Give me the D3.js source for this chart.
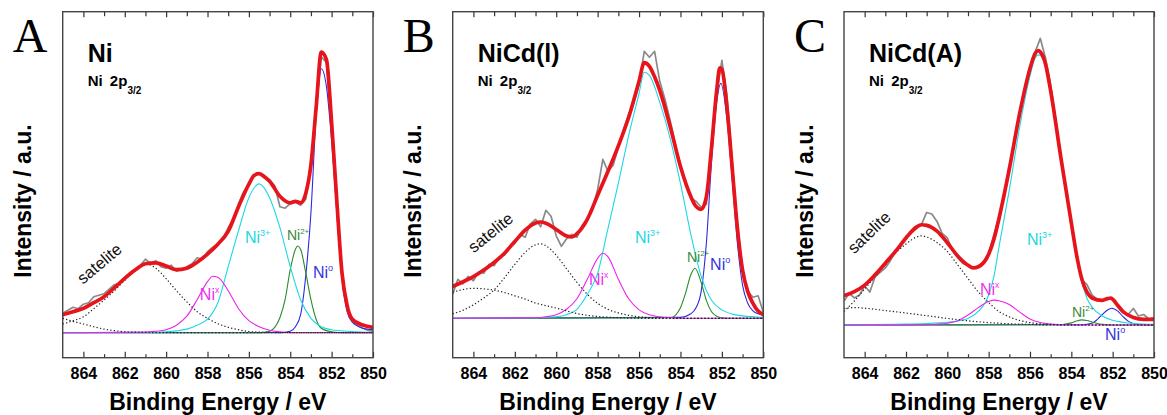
<!DOCTYPE html>
<html><head><meta charset="utf-8">
<script src="https://cdn.jsdelivr.net/npm/d3@7"></script>
<style>body{margin:0;background:#fff;} svg{display:block;}</style>
</head><body>
<svg id="chart" width="1167" height="415"></svg>
<script>
// ---------- tick labels ----------
const majorTicks = [864, 862, 860, 858, 856, 854, 852, 850];
const minorTicks = [863, 861, 859, 857, 855, 853, 851];
const xDomain = [865, 850];

// ---------- raw spectrum energies (eV) ----------
const grayEnergies = [865,864.75,864.5,864.25,864,863.75,863.5,863.25,863,862.75,862.5,862.25,862,861.75,861.5,861.25,861,860.75,860.5,860.25,860,859.75,859.5,859.25,859,858.75,858.5,858.25,858,857.75,857.5,857.25,857,856.75,856.5,856.25,856,855.75,855.5,855.25,855,854.75,854.5,854.25,854,853.75,853.5,853.25,853,852.75,852.5,852.25,852,851.75,851.5,851.25,851,850.75,850.5,850.25,850];

// ---------- Panel A : Ni ----------
const A_raw = [6.5,7.5,8.5,8,9.5,10,12,12.5,13,14.5,16,16.5,18.5,20,21,22.5,24.5,23,24,22,21.5,22.5,20.5,21,22,23,25,24.5,27,28.5,29.5,31.5,35,38,43,47,49,52.5,53,51.5,51,49,42,41.5,43,43.5,42.5,44.5,56,74,92,90,69,43,20,9,4,2.5,1.5,0.8,0.5];
const A_fit = [[865,6],[864.5,7],[864,8.1],[863.5,10],[863,12],[862.5,15],[862,18.1],[861.5,20.9],[861,23],[860.5,23.3],[860,22.2],[859.5,21],[859,21.5],[858.5,23.5],[858,26.2],[857.5,29.5],[857,33.8],[856.5,42],[856,49.5],[855.75,52.4],[855.5,53],[855.25,52],[855,50.5],[854.5,45.5],[854,43.3],[853.75,43.8],[853.5,43.3],[853.25,46.5],[853,56],[852.75,75],[852.5,93.5],[852.25,91],[852,70],[851.75,44],[851.5,20],[851.25,9],[851,4.5],[850.5,2.6],[850,1.8]];
const A_sat1 = [[865,2.9],[864.5,4],[864,5.3],[863.5,8],[863,10.9],[862.5,14],[862,17.5],[861.5,21],[861,23],[860.5,21.5],[860,18],[859.5,14],[859,10.3],[858.5,7],[858,4.8],[857.5,3],[857,1.8],[856.5,1],[856,0.4],[855,0.1],[854,0],[850,0]];
const A_sat2 = [[865,4.8],[864.5,3.8],[864,2.9],[863.5,2],[863,1.2],[862.5,0.7],[862,0.3],[861,0.1],[860,0],[850,0]];
const A_NiX = [[865,0],[861,0.2],[860.5,0.5],[860,1],[859.5,2.5],[859,5.5],[858.5,11],[858,17],[857.75,18.8],[857.5,18.5],[857,14],[856.5,8],[856,4],[855.5,2],[855,0.8],[854.5,0.3],[854,0],[850,0]];
const A_Ni3 = [[865,0],[861,0.1],[860,0.3],[859.5,0.6],[859,1.2],[858.5,2.5],[858,4.5],[857.5,10],[857,22],[856.5,34],[856,45],[855.5,49.6],[855,45],[854.5,35],[854,22],[853.5,11],[853,4.8],[852.5,2],[852,1],[851,0.4],[850,0.1]];
const A_Ni2 = [[865,0],[855.5,0],[855,0.5],[854.75,1.8],[854.5,5],[854.25,11],[854,21],[853.75,27.8],[853.65,28.9],[853.5,27.8],[853.25,20],[853,11],[852.75,4.5],[852.5,1.5],[852,0.3],[851.5,0],[850,0]];
const A_Ni0 = [[865,0],[854.5,0],[854,0.5],[853.75,2],[853.5,6],[853.25,19],[853,40],[852.75,72],[852.5,88],[852.25,82],[852,64],[851.75,40],[851.5,18],[851.25,7],[851,3.5],[850.5,1.5],[850,1]];

// ---------- Panel B : NiCd(I) ----------
const B_raw = [8,13,11.5,14,12.5,15.5,15,18,17.5,20.5,21,24,25,28,27,31.5,33,30.5,36,34,27.5,24,26.5,28,27,31,33,36,43,53,49,51,57,63,68,72,78,89,87,89,79,73,66,58,51,45,40,39,37,38,57,75,86,74,52,30,16,9,7,7.5,2];
const B_fit = [[865,10.6],[864.5,12.2],[864,13.9],[863.5,16.1],[863,18.6],[862.5,21.7],[862,25.6],[861.5,29.4],[861,31.8],[860.75,32.1],[860.5,31.7],[860,29.6],[859.5,27.4],[859.25,27.1],[859,28.2],[858.5,33],[858,41],[857.5,49],[857,57.5],[856.5,67],[856,79],[855.75,85.2],[855.5,84],[855.25,80.5],[855,76],[854.5,64],[854,50.6],[853.5,40.6],[853.25,37.3],[853,36.3],[852.75,40.5],[852.5,57],[852.25,76],[852.1,83.5],[852,83],[851.75,70],[851.5,50],[851.25,30],[851,16],[850.75,8.9],[850.5,5],[850.25,2.4],[850,1.2]];
const B_sat1 = [[865,1.5],[864.5,2.7],[864,4.5],[863.5,6.8],[863,9.5],[862.5,13.5],[862,18],[861.5,22],[861,24.5],[860.75,24.8],[860.5,24.2],[860,21],[859.5,16.5],[859,12],[858.5,8],[858,5],[857.5,3],[857,1.8],[856.5,1],[856,0.5],[855,0.1],[854,0],[850,0]];
const B_sat2 = [[865,8.7],[864.5,9.6],[864,10],[863.5,9.8],[863,9.4],[862.5,8.6],[862,7.5],[861.5,6.4],[861,5.1],[860.5,4.2],[860,3.4],[859.5,2.5],[859,1.6],[858.5,1],[858,0.6],[857,0.2],[856,0],[850,0]];
const B_NiX = [[865,0],[861,0.2],[860.5,0.5],[860,1.2],[859.5,3],[859,6.5],[858.5,13],[858,20],[857.75,21.7],[857.5,20.5],[857,13],[856.5,6.5],[856,2.8],[855.5,1.2],[855,0.5],[854.5,0.2],[854,0],[850,0]];
const B_Ni3 = [[865,0],[861,0.2],[860,0.5],[859.5,1.2],[859,3],[858.5,8],[858,15],[857.5,30],[857,45],[856.5,61],[856,75],[855.75,82],[855.5,81],[855,72],[854.5,60],[854,45],[853.5,28],[853,14],[852.5,6],[852,2.8],[851.5,1.4],[851,0.8],[850,0.3]];
const B_Ni2 = [[865,0],[854.5,0.2],[854.25,1],[854,3.5],[853.75,8.5],[853.5,14.5],[853.3,16.7],[853,12],[852.75,6],[852.5,2.2],[852.25,0.7],[852,0.2],[851.5,0],[850,0]];
const B_Ni0 = [[865,0],[854,0.3],[853.5,1.5],[853.25,3.5],[853,9],[852.75,25],[852.5,52],[852.25,72],[852.05,78.3],[851.75,66],[851.5,46],[851.25,25],[851,11],[850.75,5],[850.5,2.5],[850.25,1.5],[850,1]];

// ---------- Panel C : NiCd(A) ----------
const C_raw = [8,10.5,9,10,13,11,16,17.5,19,21.5,25,26,29.5,31,32,33.5,37.5,37,34.5,30.5,29,25,22.5,20.5,20,19,19.5,21,24,30,36,44,53,62,71,79,86,91,95.5,89,80,68,56,44,34,24,15,13.5,10,8.5,8,9,8.5,6,4,3.5,5.5,3,3.5,2,2.5];
const C_fit = [[865,9.8],[864.5,11.1],[864,13.3],[863.5,16.7],[863,20.6],[862.5,24.6],[862,29],[861.5,32.6],[861.25,33.4],[861,33.2],[860.5,31.3],[860,27.4],[859.5,23],[859,19.9],[858.75,19],[858.5,19.4],[858,23.6],[857.75,28.5],[857.5,35.5],[857,52],[856.5,70.5],[856,85.5],[855.75,90.5],[855.6,91.4],[855.5,91],[855.25,87],[855,78],[854.5,55.5],[854,34],[853.75,23.5],[853.5,15.5],[853.25,11],[853,9],[852.5,8.2],[852.25,8.8],[852.1,9],[852,8.6],[851.75,6.5],[851.5,4.5],[851,2.5],[850.5,1.9],[850,1.9]];
const C_sat1 = [[865,4.5],[864.5,8],[864,12],[863.5,16],[863,20],[862.5,24],[862,27],[861.5,29.3],[861.25,29.7],[861,29.3],[860.5,27.5],[860,24.5],[859.5,20],[859,15.5],[858.5,11],[858,7.5],[857.5,4.5],[857,2.7],[856.5,1.5],[856,0.8],[855.5,0.4],[855,0.2],[854,0],[850,0]];
const C_sat2 = [[865,5.5],[864.5,5.8],[864,5.6],[863,4.8],[862,4],[861,3.1],[860,2.2],[859,1.4],[858,0.8],[857,0.4],[856,0.2],[855,0],[850,0]];
const C_NiX = [[865,0],[861,0.1],[860.5,0.3],[860,0.6],[859.5,1.4],[859,3.3],[858.5,5.8],[858,7.8],[857.75,8.3],[857.5,8.1],[857,6.8],[856.5,4.3],[856,2],[855.5,0.8],[855,0.3],[854.5,0.1],[854,0],[850,0]];
const C_Ni3 = [[865,0.1],[862,0.3],[861,0.5],[860,0.9],[859.5,1.3],[859,2.2],[858.5,4.5],[858,10],[857.75,16],[857.5,26],[857,45],[856.5,66],[856,83],[855.75,89],[855.6,90],[855.5,89.8],[855.25,86],[855,77],[854.5,55],[854,33],[853.75,23],[853.5,14.5],[853.25,9],[853,6],[852.5,3],[852,1.6],[851.5,0.9],[851,0.5],[850,0.2]];
const C_Ni2 = [[865,0],[854.5,0.1],[854,0.7],[853.75,1.3],[853.5,1.7],[853.25,1.5],[853,1],[852.75,0.5],[852.5,0.2],[852,0],[850,0]];
const C_Ni0 = [[865,0],[853.5,0.1],[853,0.6],[852.75,1.8],[852.5,3.5],[852.25,5],[852.05,5.6],[851.75,4.6],[851.5,2.8],[851.25,1.3],[851,0.5],[850.5,0.1],[850,0]];

// ---------- texts ----------
const panelLetters = ["A", "B", "C"];
const sampleNames = ["Ni", "NiCd(l)", "NiCd(A)"];
const xAxisTitle = "Binding Energy / eV";
const yAxisTitle = "Intensity / a.u.";

// label anchor points in data coordinates [E, I]
const A_labels = {sat:[863.05,21.6], ni3:[856.19,29.9], ni2:[854.16,30.9], ni0:[852.9,18.2], nix:[858.37,10.9]};
const B_labels = {sat:[863.0,27.1], ni3:[856.2,25.1], ni2:[853.69,18.8], ni0:[852.57,16.1], nix:[858.42,11.1]};
const C_labels = {sat:[863.6,29.5], ni3:[856.15,26.7], ni2:[853.97,2.7], ni0:[852.37,-5], nix:[858.42,10]};

// ---------- layout ----------
const panels = [
  {letter:panelLetters[0], name:sampleNames[0], left:62.7, right:373, yDom:[-8.33,107], raw:A_raw, fit:A_fit, sats:[A_sat1,A_sat2], nix:A_NiX, ni3:A_Ni3, ni2:A_Ni2, ni0:A_Ni0, lab:A_labels, satRot:-40},
  {letter:panelLetters[1], name:sampleNames[1], left:452.7, right:763.3, yDom:[-13.13,102.2], raw:B_raw, fit:B_fit, sats:[B_sat1,B_sat2], nix:B_NiX, ni3:B_Ni3, ni2:B_Ni2, ni0:B_Ni0, lab:B_labels, satRot:-39},
  {letter:panelLetters[2], name:sampleNames[2], left:844, right:1154, yDom:[-10.9,104.4], raw:C_raw, fit:C_fit, sats:[C_sat1,C_sat2], nix:C_NiX, ni3:C_Ni3, ni2:C_Ni2, ni0:C_Ni0, lab:C_labels, satRot:-44}
];

const TOP = 11.7, BOTTOM = 357.7;
const COLORS = {fit:"#e8141b", raw:"#8a8a8a", ni3:"#1ad8e4", ni2:"#2a8a2a", ni0:"#2a2ae0", nix:"#ee22ee", sat:"#222"};
const LABELC = {ni3:"#20d8e0", ni2:"#3a8a3a", ni0:"#3535dd", nix:"#ee30ee"};
const SANS = "'Liberation Sans', Arial, Helvetica, sans-serif";

const svg = d3.select("#chart");

panels.forEach((p, i) => {
  const g = svg.append("g");
  const x = d3.scaleLinear().domain(xDomain).range([p.left, p.right]);
  const y = d3.scaleLinear().domain(p.yDom).range([BOTTOM, TOP]);

  const clipId = "clip" + i;
  svg.append("clipPath").attr("id", clipId).append("rect")
    .attr("x", p.left).attr("y", TOP).attr("width", p.right - p.left).attr("height", BOTTOM - TOP);
  const plot = g.append("g").attr("clip-path", `url(#${clipId})`);

  const smooth = d3.line().x(d => x(d[0])).y(d => y(d[1])).curve(d3.curveMonotoneX);
  const rawLine = d3.line().x((d, k) => x(grayEnergies[k])).y(d => y(d)).curve(d3.curveLinear);

  plot.append("path").attr("d", rawLine(p.raw)).attr("fill", "none")
    .attr("stroke", COLORS.raw).attr("stroke-width", 1.7).attr("stroke-linejoin", "round");

  const comps = [["ni0", p.ni0], ["ni2", p.ni2], ["ni3", p.ni3], ["nix", p.nix]];
  comps.forEach(([k, data]) => {
    plot.append("path").attr("d", smooth(data)).attr("fill", "none")
      .attr("stroke", COLORS[k]).attr("stroke-width", 1.1);
  });
  p.sats.forEach(data => {
    plot.append("path").attr("d", smooth(data)).attr("fill", "none")
      .attr("stroke", COLORS.sat).attr("stroke-width", 1.2).attr("stroke-dasharray", "1.3,2.2");
  });

  plot.append("path").attr("d", smooth(p.fit)).attr("fill", "none")
    .attr("stroke", COLORS.fit).attr("stroke-width", 3.7).attr("stroke-linejoin", "round").attr("stroke-linecap", "round");

  // axes
  const axB = g.append("g").attr("transform", `translate(0,${BOTTOM})`)
    .call(d3.axisBottom(x).tickValues(majorTicks).tickSize(-6).tickPadding(10).tickFormat(d3.format("d")));
  const axBm = g.append("g").attr("transform", `translate(0,${BOTTOM})`)
    .call(d3.axisBottom(x).tickValues(minorTicks).tickSize(-3.5).tickFormat(""));
  const axT = g.append("g").attr("transform", `translate(0,${TOP})`)
    .call(d3.axisTop(x).tickValues(majorTicks).tickSize(-5.5).tickFormat(""));
  const axTm = g.append("g").attr("transform", `translate(0,${TOP})`)
    .call(d3.axisTop(x).tickValues(minorTicks).tickSize(-4.5).tickFormat(""));
  [axB, axBm, axT, axTm].forEach(a => {
    a.select(".domain").remove();
    a.selectAll(".tick line").attr("stroke", "#333").attr("stroke-width", 1.2);
  });
  axB.selectAll(".tick text").attr("font-family", SANS).attr("font-size", 16)
    .attr("font-weight", "bold").attr("fill", "#000");

  // frame
  g.append("rect").attr("x", p.left).attr("y", TOP).attr("width", p.right - p.left).attr("height", BOTTOM - TOP)
    .attr("fill", "none").attr("stroke", "#444").attr("stroke-width", 1.4);

  // axis titles
  g.append("text").attr("x", (p.left + p.right) / 2).attr("y", 410)
    .attr("text-anchor", "middle").attr("font-family", SANS).attr("font-weight", "bold")
    .attr("font-size", 23).text(xAxisTitle);
  g.append("text").attr("transform", `translate(${p.left - 31.5},201) rotate(-90)`)
    .attr("text-anchor", "middle").attr("font-family", SANS).attr("font-weight", "bold")
    .attr("font-size", 23).text(yAxisTitle);

  // panel letter
  g.append("text").attr("x", p.left - 50).attr("y", 51.5)
    .attr("font-family", "'Liberation Serif', 'Times New Roman', serif").attr("font-size", 48).text(p.letter);

  // sample name and line
  g.append("text").attr("x", p.left + 25).attr("y", 61.7).attr("font-family", SANS)
    .attr("font-weight", "bold").attr("font-size", 25).text(p.name);
  const sub = g.append("text").attr("x", p.left + 25).attr("y", 86).attr("font-family", SANS)
    .attr("font-weight", "bold").attr("font-size", 15).attr("word-spacing", 3);
  sub.append("tspan").text("Ni 2p");
  sub.append("tspan").attr("font-size", 10).attr("dy", 8).text("3/2");

  // peak labels
  const L = p.lab;
  g.append("text").attr("transform", `translate(${x(L.sat[0])},${y(L.sat[1])}) rotate(${p.satRot})`)
    .attr("text-anchor", "middle").attr("font-family", SANS).attr("font-size", 16.5).attr("fill", "#111").text("satelite");
  const supLabel = (pos, main, sup, color, fs, sfs) => {
    const t = g.append("text").attr("x", x(pos[0])).attr("y", y(pos[1])).attr("font-family", SANS)
      .attr("font-size", fs).attr("fill", color);
    t.append("tspan").text(main);
    t.append("tspan").attr("font-size", sfs).attr("dy", -fs * 0.42).text(sup);
  };
  supLabel(L.ni3, "Ni", "3+", LABELC.ni3, 16, 9);
  supLabel(L.ni2, "Ni", "2+", LABELC.ni2, 14, 8);
  supLabel(L.ni0, "Ni", "o", LABELC.ni0, 16, 9);
  supLabel(L.nix, "Ni", "x", LABELC.nix, 16, 8.5);
});
</script>
</body></html>
